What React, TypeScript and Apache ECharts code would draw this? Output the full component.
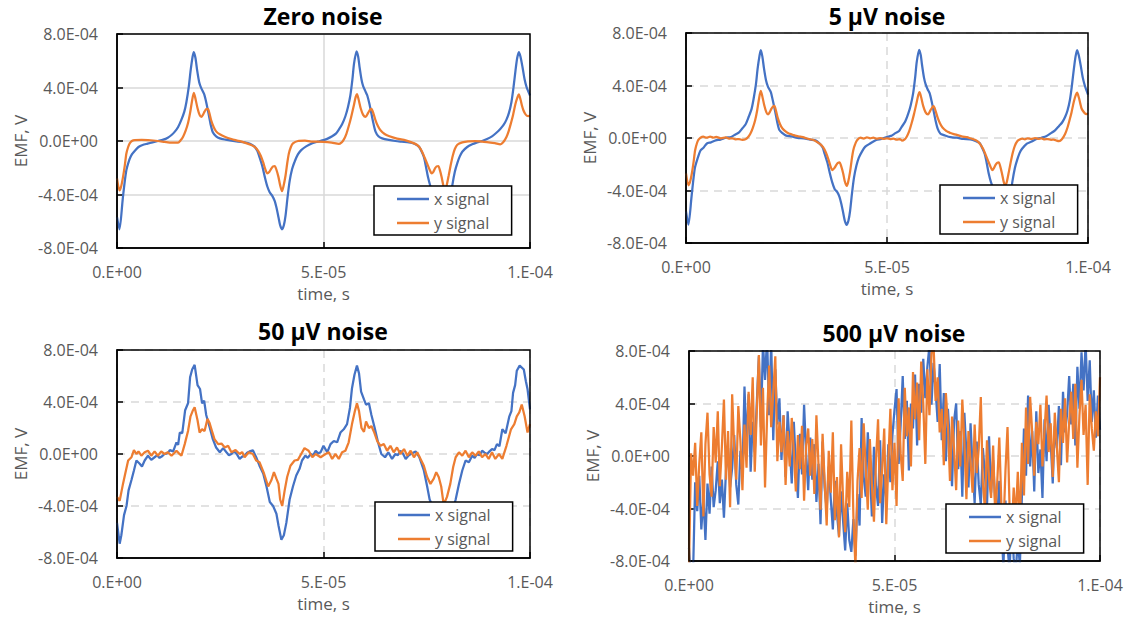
import React, { useEffect, useRef } from "react";
import * as echarts from "echarts";

// time in microseconds, EMF in units of 1E-04 V
const zeroX = [[0,-5.7],[0.6,-6.6],[1.4,-4.3],[2.2,-2.3],[3.0,-1.4],[3.6,-1.0],[4.4,-0.7],[5.2,-0.45],[6.2,-0.3],[7.4,-0.2],[8.6,-0.1],[9.9,0],[11.2,0.1],[12.3,0.25],[13.2,0.45],[14,0.7],[14.8,1.05],[15.6,1.6],[16.3,2.2],[16.8,2.9],[17.4,4.1],[17.8,5.2],[18.3,6.3],[18.6,6.65],[19.0,6.2],[19.4,5.3],[19.9,4.4],[20.4,3.95],[21.1,3.5],[21.6,2.9],[22.2,2.0],[22.7,1.2],[23.2,0.65],[24.0,0.35],[24.9,0.2],[26.3,0.1],[27.7,0.02],[29.3,-0.05],[30.9,-0.1],[32.2,-0.2],[33.3,-0.42],[34.0,-0.75],[34.5,-1.2],[35.2,-1.9],[35.8,-2.7],[36.4,-3.4],[37.0,-3.85],[37.6,-4.1],[38.2,-4.5],[38.7,-5.1],[39.1,-5.7],[39.5,-6.3],[39.95,-6.6],[40.4,-6.3],[40.8,-5.6],[41.3,-4.2],[41.8,-3.0],[42.4,-2.1],[43.0,-1.55],[43.8,-1.0],[44.6,-0.68],[45.8,-0.4],[47.3,-0.17],[48.6,-0.05],[50,0.07],[51,0.18],[52.1,0.35],[53,0.55],[53.7,0.85],[54.5,1.25],[55.3,1.85],[55.9,2.5],[56.5,3.4],[57,4.6],[57.4,5.8],[58,6.7],[58.4,6.3],[58.7,5.6],[59.2,4.6],[59.6,4.1],[60.1,3.75],[60.6,3.4],[61.1,2.8],[61.6,2.05],[62.1,1.3],[62.6,0.7],[63.3,0.35],[64.2,0.2],[65.8,0.08],[67.4,0],[69,-0.05],[70.7,-0.1],[72,-0.2],[73.1,-0.42],[73.7,-0.75],[74.3,-1.2],[74.8,-1.9],[75.3,-2.7],[75.9,-3.4],[76.5,-3.85],[77.1,-4.1],[77.6,-4.45],[78.1,-5.1],[78.5,-5.7],[79,-6.3],[79.4,-6.6],[79.8,-6.3],[80.2,-5.6],[80.7,-4.4],[81.2,-3.3],[81.8,-2.3],[82.4,-1.65],[83,-1.15],[83.6,-0.8],[84.8,-0.45],[86,-0.25],[87.2,-0.1],[88.4,0],[89.6,0.15],[90.8,0.35],[91.8,0.6],[92.8,0.9],[93.6,1.2],[94.3,1.6],[94.9,2.1],[95.5,2.9],[96,4.0],[96.5,5.3],[96.9,6.2],[97.3,6.65],[97.7,6.3],[98.2,5.5],[98.7,4.6],[99.2,4.0],[99.6,3.7],[100,3.4]];

const zeroY = [[0,-2.8],[0.6,-3.7],[1.0,-3.4],[1.45,-2.7],[1.9,-1.8],[2.26,-0.95],[2.7,-0.45],[3.07,-0.18],[3.6,0],[4.3,0.07],[6.0,0.08],[7.5,0.06],[9.9,0],[11.5,-0.06],[13.2,-0.12],[14.8,-0.12],[15.4,0.05],[16,0.32],[16.6,0.75],[17.2,1.35],[17.7,2.1],[18.2,3.05],[18.6,3.6],[18.9,3.3],[19.5,2.45],[20.0,1.95],[20.4,1.8],[20.8,1.95],[21.2,2.2],[21.6,2.38],[22.0,2.4],[22.4,2.05],[22.8,1.55],[23.4,1.05],[24.0,0.72],[25.0,0.48],[26.1,0.32],[27.7,0.15],[29.3,0.02],[30.9,-0.12],[32.5,-0.3],[33.4,-0.45],[34.1,-0.7],[34.8,-1.1],[35.4,-1.6],[35.9,-2.1],[36.4,-2.42],[36.9,-2.3],[37.4,-2.05],[37.8,-1.9],[38.2,-1.88],[38.6,-2.15],[39.1,-2.7],[39.5,-3.3],[39.95,-3.75],[40.3,-3.4],[40.8,-2.6],[41.2,-1.7],[41.6,-0.95],[42.1,-0.45],[42.6,-0.18],[43.8,0],[45.5,0.02],[47,-0.04],[50,-0.06],[52,-0.12],[53.7,-0.22],[54.4,-0.1],[54.9,0.1],[55.5,0.5],[56.1,1.1],[56.7,1.8],[57.3,2.6],[57.8,3.3],[58.1,3.5],[58.5,3.1],[59.0,2.45],[59.6,1.95],[60.2,1.8],[60.8,2.1],[61.3,2.35],[61.6,2.4],[62.1,2.05],[62.6,1.55],[63.2,1.1],[63.8,0.8],[64.8,0.52],[65.8,0.37],[67.8,0.18],[69.9,0.05],[71.5,-0.12],[72.7,-0.3],[73.3,-0.5],[73.9,-0.82],[74.5,-1.25],[75.1,-1.7],[75.7,-2.15],[76.2,-2.42],[76.6,-2.3],[77.0,-2.05],[77.4,-1.9],[77.8,-1.88],[78.2,-2.2],[78.6,-2.7],[79.0,-3.3],[79.4,-3.7],[79.8,-3.35],[80.3,-2.6],[80.8,-1.8],[81.3,-1.1],[81.8,-0.6],[82.4,-0.28],[83.6,-0.1],[85.0,-0.02],[86.8,0],[88.4,-0.05],[90,-0.1],[91.5,-0.16],[92.8,-0.25],[93.5,-0.1],[94.3,0.3],[94.9,0.8],[95.4,1.35],[95.9,1.95],[96.5,2.8],[97.0,3.3],[97.3,3.48],[97.7,3.1],[98.1,2.6],[98.4,2.3],[98.9,2.0],[99.3,1.88],[99.6,1.86],[100,1.9]];

const fiveX = [[0,-5.6],[0.6,-6.6],[1.4,-4.4],[2.2,-2.3],[3.0,-1.45],[3.6,-0.95],[4.4,-0.72],[5.2,-0.42],[6.2,-0.33],[7.4,-0.18],[8.6,-0.12],[9.9,0.02],[11.2,0.08],[12.3,0.27],[13.2,0.43],[14,0.72],[14.8,1.03],[15.6,1.62],[16.3,2.2],[16.8,2.95],[17.4,4.1],[17.8,5.25],[18.3,6.3],[18.6,6.7],[19.0,6.2],[19.4,5.3],[19.9,4.4],[20.4,3.9],[21.1,3.5],[21.6,2.85],[22.2,2.0],[22.7,1.2],[23.2,0.62],[24.0,0.37],[24.9,0.18],[26.3,0.12],[27.7,0.0],[29.3,-0.03],[30.9,-0.12],[32.2,-0.18],[33.3,-0.45],[34.0,-0.73],[34.5,-1.22],[35.2,-1.9],[35.8,-2.7],[36.4,-3.4],[37.0,-3.9],[37.6,-4.1],[38.2,-4.5],[38.7,-5.1],[39.1,-5.7],[39.5,-6.3],[39.95,-6.62],[40.4,-6.3],[40.8,-5.6],[41.3,-4.2],[41.8,-3.0],[42.4,-2.1],[43.0,-1.5],[43.8,-1.02],[44.6,-0.66],[45.8,-0.42],[47.3,-0.15],[48.6,-0.07],[50,0.08],[51,0.16],[52.1,0.37],[53,0.53],[53.7,0.87],[54.5,1.23],[55.3,1.87],[55.9,2.5],[56.5,3.4],[57,4.6],[57.4,5.8],[58,6.72],[58.4,6.3],[58.7,5.6],[59.2,4.6],[59.6,4.1],[60.1,3.72],[60.6,3.42],[61.1,2.8],[61.6,2.05],[62.1,1.3],[62.6,0.72],[63.3,0.33],[64.2,0.22],[65.8,0.06],[67.4,0.02],[69,-0.07],[70.7,-0.1],[72,-0.22],[73.1,-0.4],[73.7,-0.77],[74.3,-1.2],[74.8,-1.9],[75.3,-2.7],[75.9,-3.4],[76.5,-3.85],[77.1,-4.1],[77.6,-4.45],[78.1,-5.1],[78.5,-5.7],[79,-6.3],[79.4,-6.6],[79.8,-6.3],[80.2,-5.6],[80.7,-4.4],[81.2,-3.3],[81.8,-2.3],[82.4,-1.65],[83,-1.13],[83.6,-0.82],[84.8,-0.43],[86,-0.27],[87.2,-0.08],[88.4,0.02],[89.6,0.13],[90.8,0.37],[91.8,0.58],[92.8,0.92],[93.6,1.2],[94.3,1.6],[94.9,2.1],[95.5,2.9],[96,4.0],[96.5,5.3],[96.9,6.2],[97.3,6.7],[97.7,6.3],[98.2,5.5],[98.7,4.6],[99.2,4.0],[99.6,3.65],[100,3.3]];

const fiveY = [[0,-2.7],[0.6,-3.6],[1.0,-3.35],[1.45,-2.7],[1.9,-1.8],[2.26,-0.95],[2.7,-0.42],[3.07,-0.15],[3.6,0.02],[4.3,0.1],[5.1,0.02],[6.0,0.1],[6.8,0.03],[7.5,0.08],[8.7,-0.02],[9.9,0.04],[10.7,-0.05],[11.5,-0.02],[12.3,-0.1],[13.2,-0.08],[14.0,-0.14],[14.8,-0.1],[15.4,0.05],[16,0.32],[16.6,0.75],[17.2,1.35],[17.7,2.1],[18.2,3.05],[18.6,3.6],[18.9,3.3],[19.5,2.45],[20.0,1.95],[20.4,1.8],[20.8,1.95],[21.2,2.2],[21.6,2.38],[22.0,2.45],[22.4,2.05],[22.8,1.55],[23.4,1.05],[24.0,0.72],[25.0,0.45],[25.6,0.35],[26.1,0.3],[26.8,0.22],[27.7,0.15],[28.5,0.1],[29.3,0.05],[30.1,-0.04],[30.9,-0.1],[31.7,-0.15],[32.5,-0.28],[33.4,-0.47],[34.1,-0.7],[34.8,-1.1],[35.4,-1.6],[35.9,-2.1],[36.4,-2.45],[36.9,-2.3],[37.4,-2.05],[37.8,-1.9],[38.2,-1.85],[38.6,-2.15],[39.1,-2.7],[39.5,-3.3],[39.95,-3.65],[40.3,-3.4],[40.8,-2.6],[41.2,-1.7],[41.6,-0.95],[42.1,-0.45],[42.6,-0.15],[43.4,0.02],[44.2,-0.04],[45.0,0.05],[45.8,-0.02],[46.6,0.02],[47.5,-0.05],[48.3,0.0],[49.1,-0.06],[50,-0.02],[50.8,-0.08],[51.6,-0.05],[52.4,-0.12],[53.2,-0.08],[53.7,-0.2],[54.4,-0.1],[54.9,0.1],[55.5,0.5],[56.1,1.1],[56.7,1.8],[57.3,2.6],[57.8,3.3],[58.1,3.5],[58.5,3.1],[59.0,2.45],[59.6,1.95],[60.2,1.8],[60.8,2.1],[61.3,2.35],[61.6,2.42],[62.1,2.05],[62.6,1.55],[63.2,1.1],[63.8,0.8],[64.8,0.52],[65.3,0.45],[65.8,0.38],[66.6,0.3],[67.8,0.2],[68.8,0.1],[69.9,0.06],[70.7,-0.02],[71.5,-0.1],[72.1,-0.18],[72.7,-0.3],[73.3,-0.52],[73.9,-0.82],[74.5,-1.25],[75.1,-1.7],[75.7,-2.15],[76.2,-2.45],[76.6,-2.3],[77.0,-2.05],[77.4,-1.9],[77.8,-1.85],[78.2,-2.2],[78.6,-2.7],[79.0,-3.3],[79.4,-3.65],[79.8,-3.35],[80.3,-2.6],[80.8,-1.8],[81.3,-1.1],[81.8,-0.6],[82.4,-0.25],[83.0,-0.12],[83.6,-0.05],[84.3,-0.1],[85.0,-0.02],[85.9,-0.07],[86.8,0.0],[87.6,-0.06],[88.4,-0.03],[89.2,-0.1],[90,-0.08],[90.8,-0.14],[91.5,-0.12],[92.2,-0.2],[92.8,-0.24],[93.5,-0.1],[94.3,0.3],[94.9,0.8],[95.4,1.35],[95.9,1.95],[96.5,2.8],[97.0,3.3],[97.3,3.45],[97.7,3.1],[98.1,2.6],[98.4,2.25],[98.9,2.0],[99.3,1.85],[99.6,1.82],[100,1.9]];

const fiftyX = [[0,-5.3],[0.65,-6.9],[1.05,-6.25],[1.7,-4.7],[2.3,-4.0],[2.8,-2.8],[3.5,-2.0],[4.1,-1.27],[4.7,-0.5],[5.5,-0.75],[6.05,-0.96],[6.7,-0.5],[7.5,-0.13],[8.3,-0.45],[9.1,-0.25],[9.7,-0.1],[10.3,-0.3],[11.0,-0.15],[11.5,0],[12.2,0.05],[12.8,0.3],[13.6,0.2],[14.4,0.9],[14.8,0.7],[15.2,1.65],[15.8,1.6],[16.5,3.37],[17.2,3.9],[17.7,5.9],[18.2,6.5],[18.8,6.86],[19.5,5.3],[20.1,5.0],[20.6,3.9],[21.1,4.1],[21.6,3.0],[22.4,2.1],[23.2,1.14],[24,0.5],[24.9,0.13],[25.7,0.45],[26.5,0.13],[27.1,-0.1],[27.7,0],[28.3,0.2],[28.9,0.05],[29.7,-0.38],[30.3,-0.2],[30.9,-0.13],[31.5,0.1],[32.1,0.2],[32.9,0.28],[33.7,-0.25],[34.5,-0.9],[35.4,-1.5],[36.2,-2.5],[37,-3.7],[37.8,-4.0],[38.6,-4.6],[39.1,-5.5],[39.8,-6.6],[40.4,-6.25],[41,-5.3],[41.8,-3.5],[42.6,-2.5],[43.4,-1.65],[44.2,-1.14],[44.8,-0.5],[45.6,-0.13],[46.2,-0.3],[46.9,0],[47.5,-0.1],[48.1,0.25],[48.7,0.05],[49.3,0.13],[50,0.63],[50.9,0.13],[51.7,0.76],[52.5,1.0],[53.3,0.9],[54.1,1.65],[54.9,1.9],[55.7,2.3],[56.4,3.54],[56.9,5.06],[57.5,6.1],[58.1,6.8],[58.6,6.2],[59.1,4.8],[59.8,4.2],[60.3,3.8],[61,3.9],[61.6,3.0],[62.4,2.0],[63.2,0.9],[64,0],[64.9,-0.25],[65.7,0.13],[66.6,-0.38],[67.4,0],[68,-0.1],[68.6,0.25],[69.2,0.05],[69.9,-0.38],[70.5,-0.15],[71.1,0],[71.7,0.1],[72.3,0.2],[73.2,-0.25],[74.3,-1.27],[75.1,-2.5],[75.7,-3.5],[76.5,-4.1],[77.3,-4.6],[78.0,-5.5],[78.7,-6.4],[79.4,-6.8],[80.1,-6.1],[80.8,-5.0],[81.4,-4.2],[82,-3.5],[82.8,-2.3],[83.6,-1.27],[84.4,-0.5],[85.2,-0.63],[86,-0.13],[86.6,-0.3],[87.2,0],[87.8,-0.1],[88.4,0.25],[89,0.1],[89.6,0],[90.2,0.2],[90.8,0.38],[91.4,0.3],[92,0.76],[92.6,0.6],[93.3,1.9],[94.1,1.6],[95,2.9],[95.5,3.3],[95.9,4.7],[96.4,5.3],[96.8,6.4],[97.5,6.8],[98.5,6.5],[99.0,5.6],[99.4,5.0],[100,3.44]];

const fiftyY = [[0,-3.3],[0.65,-3.6],[1.45,-2.3],[2,-1.5],[2.7,-0.5],[3.5,-0.25],[4.1,0.3],[4.7,0],[5.2,0.2],[5.9,-0.13],[6.7,0.13],[7.5,0.25],[8.3,-0.13],[9.1,0.2],[9.9,-0.13],[10.7,0.2],[11.5,0],[12.3,0.13],[13.2,-0.13],[14.4,0.25],[15.0,0.05],[15.6,-0.13],[16.4,0.76],[17.2,1.77],[17.8,2.9],[18.4,3.37],[18.8,3.6],[19.5,2.6],[20,1.65],[20.6,1.9],[21.2,1.77],[21.9,2.7],[22.4,2.4],[23,1.77],[23.6,1.14],[24.5,0.76],[25.3,0.8],[26.1,0.5],[26.9,0.63],[27.7,0.13],[28.7,0.3],[29.7,0],[30.3,0.15],[30.9,-0.25],[31.9,0.13],[32.9,0],[33.7,-0.5],[34.5,-0.63],[35.6,-1.5],[36.6,-2.5],[37.4,-2.0],[38,-1.4],[38.6,-1.9],[39.1,-2.3],[39.5,-3.5],[40,-4.0],[40.6,-2.8],[41.2,-1.77],[42,-0.9],[43,-0.5],[43.8,-0.45],[44.6,0],[45.4,0.45],[46.4,0.25],[47.3,-0.25],[48.1,0],[49.3,-0.25],[50.5,0],[51.3,0.13],[52.1,-0.38],[52.9,0],[53.7,-0.38],[54.5,0.13],[55.3,0.25],[56.1,0.9],[56.9,2.3],[57.6,3.3],[58.1,3.9],[58.6,3.3],[59.2,2.0],[59.8,1.7],[60.3,2.5],[61,2.0],[61.6,2.15],[62.3,1.65],[63,1.0],[63.8,0.63],[64.6,0.76],[65.4,0.25],[66.2,0.63],[67,0.13],[67.8,0.5],[68.6,0],[69.5,0.38],[70.3,-0.13],[71.1,0.25],[71.9,-0.25],[72.7,0.13],[73.5,-0.38],[74.3,-0.9],[75.1,-1.77],[75.9,-2.3],[76.7,-1.9],[77.3,-1.4],[77.9,-1.77],[78.5,-2.5],[79.1,-3.9],[79.9,-3.3],[80.7,-2.3],[81.4,-1.0],[82,-0.25],[82.8,0.13],[83.6,-0.13],[84.4,0.25],[85.2,-0.25],[86,0.13],[86.8,-0.13],[87.6,0.2],[88.4,-0.25],[89.2,0],[90,-0.38],[90.8,0.13],[91.6,-0.38],[92.5,0],[93.3,-0.38],[94.3,0.63],[95.4,1.9],[96.2,2.3],[96.8,2.9],[97.4,3.2],[98,3.8],[98.7,2.9],[99.4,1.65],[100,2.3]];

// 500 uV noise: samples every 0.5 us from 0 to 100 us
const SAMPLE_STEP = 0.5;
const fiveHundredX = [
  -7.0,-9.5,-8.8,-2.0,-4.2,-1.5,-5.6,-3.2,-6.4,-2.1,-4.4,-0.8,-3.9,-2.6,-0.4,-3.6,-1.8,-4.7,-1.1,0.6,
  -2.4,-0.9,1.6,-2.2,-3.7,0.4,-1.3,5.3,0.9,4.7,-1.2,2.6,0.3,4.1,7.6,2.2,8.6,5.8,9.1,3.1,
  8.7,1.2,6.6,2.4,4.4,-0.3,3.1,-1.6,3.4,0.8,-2.1,2.6,-0.7,-3.2,1.7,-1.4,3.9,0.2,-2.6,1.4,
  -1.8,0.9,-3.5,-0.6,-5.2,1.1,-2.4,-4.1,-0.8,-3.3,-5.6,-1.9,-4.4,-6.1,-2.7,-5.0,-7.2,-3.6,-6.4,-7.3,
  -4.8,-7.6,-2.9,-5.3,2.9,-1.6,-3.1,1.8,-0.9,-4.6,0.7,-2.3,-3.8,1.2,-5.1,-1.4,-3.3,0.9,-2.0,1.6,
  3.5,5.1,-0.6,2.4,6.1,1.3,4.2,-1.1,4.0,2.1,6.2,0.8,5.5,3.3,7.4,4.4,6.8,8.4,3.9,7.1,
  5.0,2.6,7.0,1.2,4.8,-0.4,3.6,0.9,-2.3,2.7,4.0,-1.0,1.9,-3.1,3.3,0.2,-2.4,2.5,-0.8,-3.6,
  1.1,-2.2,-3.7,0.6,-1.4,-3.9,1.5,-2.8,-0.3,-3.5,-4.6,-1.9,-5.2,-8.5,-3.4,-6.9,-8.8,-4.5,-7.8,-9.0,
  -6.2,-8.4,-3.0,2.1,-1.5,4.6,-0.8,1.9,-2.7,3.4,-1.3,0.5,-3.2,2.8,-0.4,3.9,1.1,-2.1,2.3,0.6,
  3.8,-0.7,4.9,1.8,3.2,6.1,2.4,5.5,0.8,6.8,3.6,7.9,5.0,8.6,4.2,7.3,2.6,5.0,1.4,4.6,
  2.0
];
const fiveHundredY = [
  -8.5,0.2,-1.5,1.0,-3.8,-0.6,1.8,-4.6,0.9,3.3,-1.4,-3.1,2.2,-0.5,3.4,-2.3,0.7,4.3,-1.8,1.9,
  -3.9,4.7,0.6,-1.8,3.8,1.2,-2.6,2.4,-0.9,4.9,1.6,6.0,-1.2,3.5,7.7,0.8,5.2,-2.4,3.0,6.9,
  2.2,4.8,7.6,-0.4,2.6,0.3,3.1,-2.2,1.9,-0.8,2.9,0.4,-2.7,1.6,-1.0,2.3,-3.4,0.8,2.1,-1.5,
  1.3,-2.9,3.1,-0.6,-4.1,1.7,-1.9,-5.3,0.4,-2.8,1.8,-4.9,-1.6,-6.2,0.9,-3.4,-5.8,-1.2,-3.9,2.7,
  -4.6,-8.5,-1.9,0.6,-3.2,2.5,-0.9,-4.1,1.3,-2.2,-5.0,-0.3,2.8,-3.6,-1.1,2.1,-5.2,-0.4,3.6,-2.6,
  1.0,-3.8,4.4,0.2,-1.9,5.2,1.5,3.7,-0.8,6.4,2.8,5.6,1.2,7.2,4.0,-0.6,6.6,3.1,7.8,8.5,
  4.2,6.0,1.8,3.6,-0.7,4.8,2.3,-1.9,3.0,0.5,-2.6,2.7,-0.8,4.3,1.1,-3.3,1.9,-0.4,-2.8,2.4,
  -1.3,0.6,4.5,-2.1,-4.0,1.2,-1.7,-3.2,0.8,-4.5,-2.0,1.4,-3.6,-5.5,-1.1,2.2,-3.9,-6.1,-2.4,-4.8,
  -1.2,-5.6,1.0,-3.0,3.7,-0.6,4.5,1.8,-1.5,2.6,0.9,3.9,-0.8,1.9,4.6,0.3,2.5,-1.6,3.3,0.7,
  -2.0,3.6,1.0,4.4,-0.5,2.6,4.9,1.3,5.5,-0.9,3.1,5.8,1.6,3.9,-2.2,4.7,2.1,0.4,3.4,1.5,
  6.0
];

const titles = ["Zero noise", "5 \u00b5V noise", "50 \u00b5V noise", "500 \u00b5V noise"];
const seriesNames = ["x signal", "y signal"];
const yTicks = { min: -8, max: 8, step: 4 }; // in 1E-04 V
const xTicks = { min: 0, max: 100, step: 50 }; // in 1E-06 s

const BLUE = "#4472C4";
const ORANGE = "#ED7D31";
const FONT = "'Open Sans', sans-serif";

function sci(v: number, digits: number): string {
  const s = v.toExponential(digits);
  const [m, e] = s.split("e");
  const en = parseInt(e, 10);
  const sign = en < 0 ? "-" : "+";
  const ee = String(Math.abs(en)).padStart(2, "0");
  return m + (digits === 0 ? "." : "") + "E" + sign + ee;
}

const panels = [
  { grid: { left: 117, top: 34, width: 413, height: 214 }, dashed: false, title: [323, 16], legend: [374, 186] },
  { grid: { left: 686, top: 33, width: 402, height: 210 }, dashed: true, title: [887, 16], legend: [940, 185] },
  { grid: { left: 117, top: 350, width: 413, height: 208 }, dashed: true, title: [323, 331], legend: [375, 502] },
  { grid: { left: 689, top: 351, width: 411, height: 210 }, dashed: true, title: [894, 333], legend: [946, 504] },
];

export default function App() {
  const ref = useRef<HTMLDivElement>(null);
  useEffect(() => {
    if (!ref.current) return;
    const chart = echarts.init(ref.current, undefined, { renderer: "svg" });
    const uniform = (arr: number[]) => arr.map((v, i) => [i * SAMPLE_STEP, v]);
    const data = [
      [zeroX, zeroY],
      [fiveX, fiveY],
      [fiftyX, fiftyY],
      [uniform(fiveHundredX), uniform(fiveHundredY)],
    ];
    const labelStyle = { color: "#595959", fontSize: 16, fontFamily: FONT };
    const grids = panels.map((p) => ({ ...p.grid, show: false, containLabel: false }));
    const xAxes = panels.map((p, i) => ({
      type: "value",
      gridIndex: i,
      min: xTicks.min,
      max: xTicks.max,
      interval: xTicks.step,
      axisLine: { show: true, onZero: false, lineStyle: { color: "#000", width: 1.5 } },
      axisTick: { show: true, inside: true, length: 6, lineStyle: { color: "#000", width: 1.5 } },
      axisLabel: { ...labelStyle, margin: 16, lineHeight: 16, formatter: (v: number) => sci(v * 1e-6, 0) },
      splitLine: { show: true, lineStyle: { color: "#D9D9D9", width: 1.5, type: p.dashed ? [8, 6] : "solid" } },
      name: "time, s",
      nameLocation: "middle",
      nameGap: 37,
      nameTextStyle: { ...labelStyle, fontSize: 17, lineHeight: 17 },
    }));
    const yAxes = panels.map((p, i) => ({
      type: "value",
      gridIndex: i,
      min: yTicks.min,
      max: yTicks.max,
      interval: yTicks.step,
      axisLine: { show: true, onZero: false, lineStyle: { color: "#000", width: 1.5 } },
      axisTick: { show: true, inside: true, length: 6, lineStyle: { color: "#000", width: 1.5 } },
      axisLabel: { ...labelStyle, margin: 19, formatter: (v: number) => sci(v * 1e-4, 1) },
      splitLine: { show: true, lineStyle: { color: "#D9D9D9", width: 1.5, type: p.dashed ? [8, 6] : "solid" } },
      name: "EMF, V",
      nameLocation: "middle",
      nameGap: 88,
      nameRotate: 90,
      nameTextStyle: { ...labelStyle, fontSize: 17 },
    }));
    const series: any[] = [];
    data.forEach((pair, i) => {
      pair.forEach((d, k) => {
        series.push({
          type: "line",
          name: seriesNames[k],
          xAxisIndex: i,
          yAxisIndex: i,
          data: d,
          symbol: "none",
          showSymbol: false,
          smooth: i < 2 ? 0.25 : false,
          clip: true,
          lineStyle: { width: 2.25, color: k === 0 ? BLUE : ORANGE },
          itemStyle: { color: k === 0 ? BLUE : ORANGE },
          z: k === 0 ? 2 : 3,
        });
      });
    });
    const legends = panels.map((p) => ({
      left: p.legend[0],
      top: p.legend[1],
      orient: "vertical",
      data: seriesNames,
      icon: "rect",
      backgroundColor: "#fff",
      borderColor: "#000",
      borderWidth: 1.5,
      borderRadius: 0,
      padding: [5, 22, 4, 23],
      itemGap: 8,
      itemWidth: 32,
      itemHeight: 2.5,
      textStyle: { color: "#595959", fontSize: 16, fontFamily: FONT, lineHeight: 16 },
      selectedMode: false,
      z: 10,
    }));
    const graphic: any[] = panels.map((p, i) => ({
      type: "text",
      x: p.title[0],
      y: p.title[1],
      style: {
        text: titles[i],
        font: `bold 23px ${FONT}`,
        fill: "#000",
        textAlign: "center",
        textVerticalAlign: "middle",
        align: "center",
        verticalAlign: "middle",
      },
    }));
    panels.forEach((p) => {
      graphic.push({
        type: "rect",
        silent: true,
        z: 50,
        shape: { x: p.grid.left, y: p.grid.top, width: p.grid.width, height: p.grid.height },
        style: { fill: "none", stroke: "#000", lineWidth: 1.5 },
      });
    });
    chart.setOption({
      animation: false,
      backgroundColor: "#fff",
      grid: grids,
      xAxis: xAxes,
      yAxis: yAxes,
      series,
      legend: legends,
      graphic,
    } as any);
    return () => chart.dispose();
  }, []);
  return (
    <div
      ref={ref}
      style={{ position: "absolute", left: 0, top: 0, width: 1133, height: 619 }}
    />
  );
}
